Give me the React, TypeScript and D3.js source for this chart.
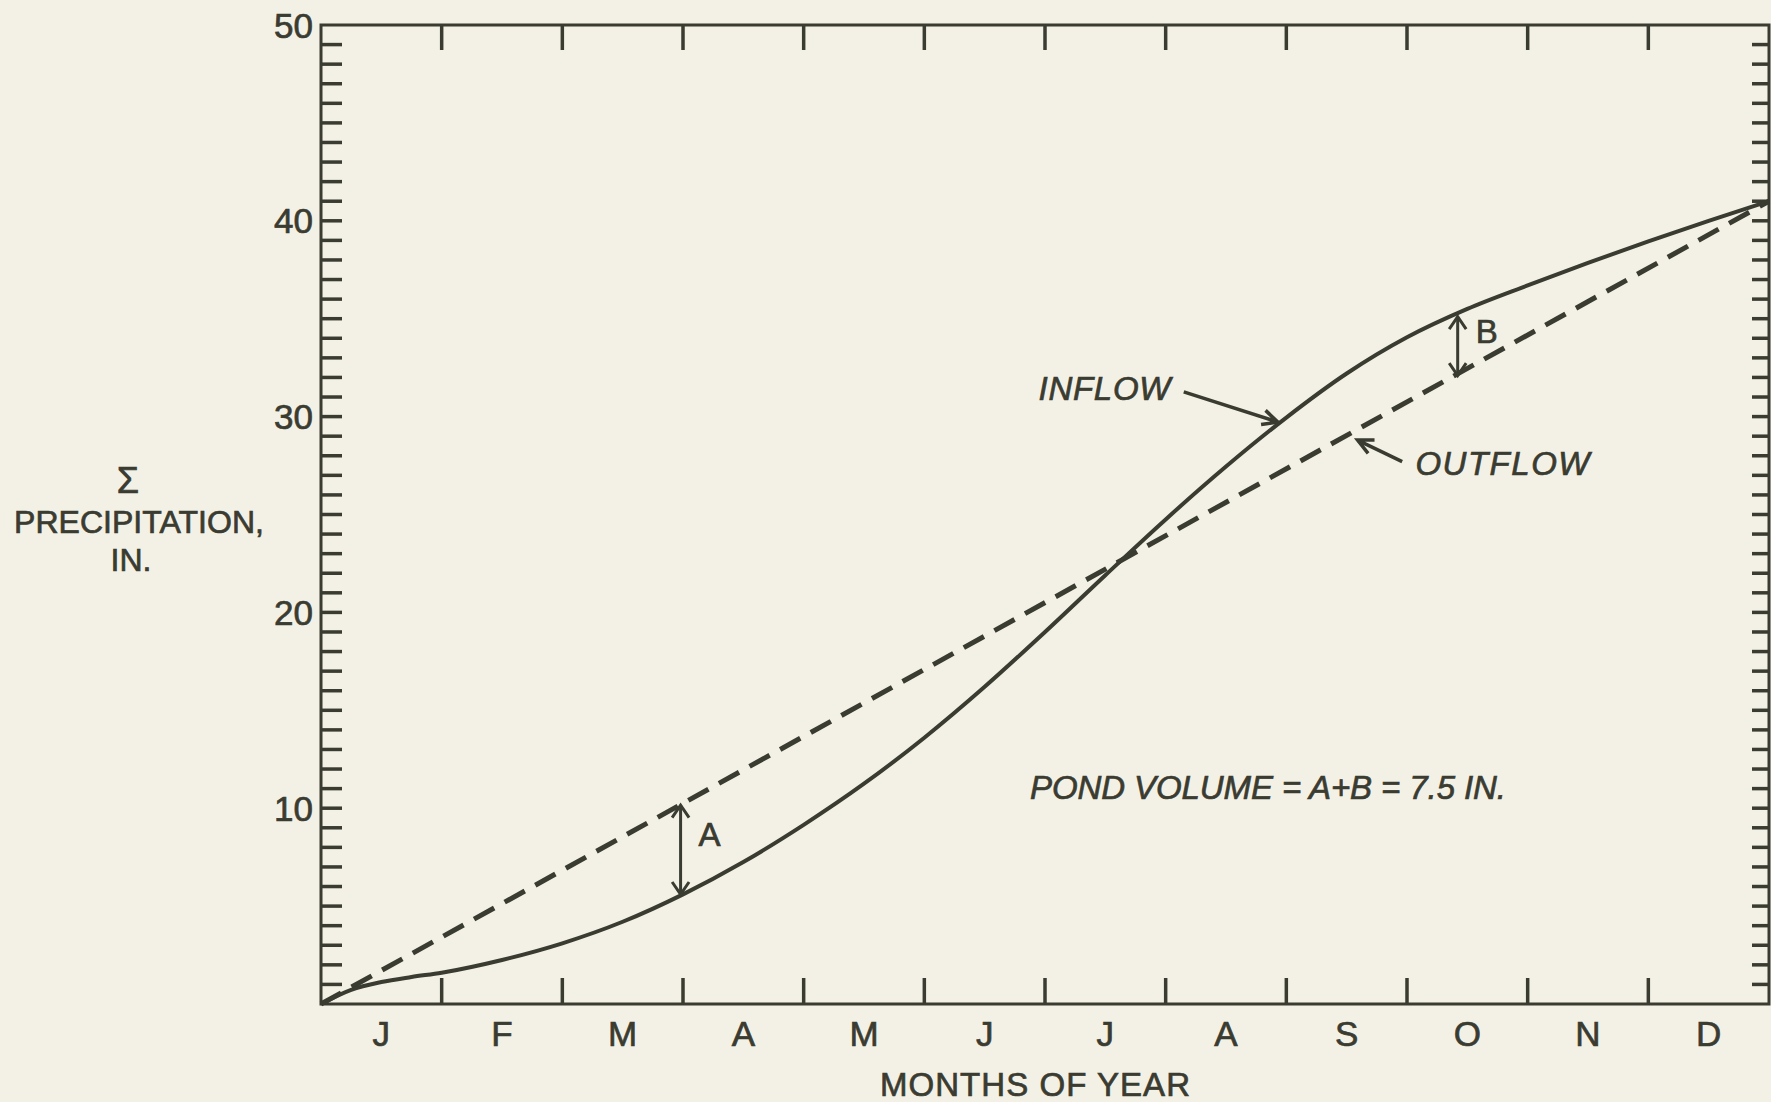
import React, { useEffect, useRef } from 'react';
import * as d3 from 'd3';

const W = 1771;
const H = 1102;
const PAPER = '#f3f1e5';
const INK = '#3a3b31';
const FONT = '"Liberation Sans", Arial, sans-serif';

// month labels along the bottom
const MONTHS = ['J', 'F', 'M', 'A', 'M', 'J', 'J', 'A', 'S', 'O', 'N', 'D'];
// labelled values on the y axis
const Y_LABELS = [10, 20, 30, 40, 50];

// cumulative inflow (solid curve), month of year vs inches
const INFLOW_MONTH = [0, 0.25, 0.5, 0.75, 1, 1.5, 2, 2.5, 3, 3.5, 4, 4.5, 5, 5.5, 6, 6.5, 7, 7.5, 8, 8.5, 9, 9.5, 10, 10.5, 11, 11.5, 12];
const INFLOW_VALUE = [0, 0.72, 1.12, 1.38, 1.6, 2.25, 3.1, 4.2, 5.6, 7.25, 9.15, 11.25, 13.6, 16.2, 19.0, 21.9, 24.75, 27.45, 29.95, 32.2, 34.05, 35.5, 36.7, 37.85, 38.95, 40.0, 41.0];

// cumulative outflow (dashed straight line)
const OUTFLOW_MONTH = [0, 12];
const OUTFLOW_VALUE = [0, 41];

// the A and B gaps between the curves
const GAP_LABEL = ['A', 'B'];
const GAP_MONTH = [2.98, 9.42];
const GAP_TOP = [10.15, 35.1];
const GAP_BOTTOM = [5.6, 32.1];
const GAP_LABEL_VALUE = [8.68, 34.35];

export default function App() {
  const ref = useRef<SVGSVGElement>(null);

  useEffect(() => {
    const svg = d3.select(ref.current);
    svg.selectAll('*').remove();

    const x = d3.scaleLinear().domain([0, 12]).range([321, 1769]);
    const y = d3.scaleLinear().domain([0, 50]).range([1004, 25]);

    svg.append('rect').attr('width', W).attr('height', H).attr('fill', PAPER);

    // open V arrow head at (tx,ty) pointing away from (fx,fy)
    const arrowHead = (tx: number, ty: number, fx: number, fy: number, len = 15, ang = 0.5) => {
      const a = Math.atan2(ty - fy, tx - fx);
      const p1 = [tx - len * Math.cos(a - ang), ty - len * Math.sin(a - ang)];
      const p2 = [tx - len * Math.cos(a + ang), ty - len * Math.sin(a + ang)];
      return `M${p1[0]},${p1[1]}L${tx},${ty}L${p2[0]},${p2[1]}`;
    };

    const label = (sel: any, size: number) =>
      sel.attr('font-family', FONT)
        .attr('font-size', size)
        .attr('fill', INK)
        .attr('stroke', INK)
        .attr('stroke-width', 0.7);

    // unit ticks on left and right
    const units = d3.range(1, 50);
    svg.selectAll('leftTicks')
      .data(units)
      .enter()
      .append('line')
      .attr('x1', x(0))
      .attr('x2', x(0) + 21)
      .attr('y1', d => y(d))
      .attr('y2', d => y(d))
      .attr('stroke', INK)
      .attr('stroke-width', 3.5);

    svg.selectAll('rightTicks')
      .data(units)
      .enter()
      .append('line')
      .attr('x1', x(12) - 17)
      .attr('x2', x(12))
      .attr('y1', d => y(d))
      .attr('y2', d => y(d))
      .attr('stroke', INK)
      .attr('stroke-width', 3.5);

    // month ticks top and bottom
    const monthTicks = d3.range(1, 12);
    svg.selectAll('bottomTicks')
      .data(monthTicks)
      .enter()
      .append('line')
      .attr('x1', d => x(d))
      .attr('x2', d => x(d))
      .attr('y1', y(0))
      .attr('y2', y(0) - 26)
      .attr('stroke', INK)
      .attr('stroke-width', 3.5);

    svg.selectAll('topTicks')
      .data(monthTicks)
      .enter()
      .append('line')
      .attr('x1', d => x(d))
      .attr('x2', d => x(d))
      .attr('y1', y(50))
      .attr('y2', y(50) + 25)
      .attr('stroke', INK)
      .attr('stroke-width', 3.5);

    // frame
    svg.append('rect')
      .attr('x', x(0))
      .attr('y', y(50))
      .attr('width', x(12) - x(0))
      .attr('height', y(0) - y(50))
      .attr('fill', 'none')
      .attr('stroke', INK)
      .attr('stroke-width', 3);

    // tick labels
    label(svg.selectAll('yLabels')
      .data(Y_LABELS)
      .enter()
      .append('text')
      .attr('x', 313)
      .attr('y', d => y(d) + 12.5)
      .attr('text-anchor', 'end')
      .text(d => d), 35);

    label(svg.selectAll('monthLabels')
      .data(MONTHS)
      .enter()
      .append('text')
      .attr('x', (d, i) => x(i + 0.5))
      .attr('y', 1046)
      .attr('text-anchor', 'middle')
      .text(d => d), 35);

    // axis titles
    label(svg.append('text')
      .attr('x', (x(0) + x(12)) / 2 - 10)
      .attr('y', 1096)
      .attr('text-anchor', 'middle')
      .attr('textLength', 310)
      .text('MONTHS OF YEAR'), 33);

    const yTitle = [
      { t: '\u03A3', cx: 128, by: 493, s: 36 },
      { t: 'PRECIPITATION,', cx: 139, by: 533, s: 32 },
      { t: 'IN.', cx: 131, by: 571, s: 32 },
    ];
    svg.selectAll('yTitle')
      .data(yTitle)
      .enter()
      .append('text')
      .attr('x', d => d.cx)
      .attr('y', d => d.by)
      .attr('text-anchor', 'middle')
      .attr('font-family', FONT)
      .attr('font-size', d => d.s)
      .attr('fill', INK)
      .attr('stroke', INK)
      .attr('stroke-width', 0.7)
      .attr('textLength', d => (d.t.length > 3 ? 250 : null))
      .text(d => d.t);

    // the two curves
    const inflow = INFLOW_MONTH.map((m, i) => [m, INFLOW_VALUE[i]] as [number, number]);
    const outflow = OUTFLOW_MONTH.map((m, i) => [m, OUTFLOW_VALUE[i]] as [number, number]);

    const line = d3.line<[number, number]>()
      .x(d => x(d[0]))
      .y(d => y(d[1]))
      .curve(d3.curveMonotoneX);

    svg.append('path')
      .attr('d', line(outflow))
      .attr('fill', 'none')
      .attr('stroke', INK)
      .attr('stroke-width', 5)
      .attr('stroke-dasharray', '23 12');

    svg.append('path')
      .attr('d', line(inflow))
      .attr('fill', 'none')
      .attr('stroke', INK)
      .attr('stroke-width', 4);

    // A and B double arrows
    GAP_MONTH.forEach((m, i) => {
      const gx = x(m);
      const top = y(GAP_TOP[i]);
      const bot = y(GAP_BOTTOM[i]);
      svg.append('line')
        .attr('x1', gx).attr('x2', gx)
        .attr('y1', top).attr('y2', bot)
        .attr('stroke', INK).attr('stroke-width', 3);
      svg.append('path')
        .attr('d', arrowHead(gx, top, gx, bot, 15, 0.6) + arrowHead(gx, bot, gx, top, 15, 0.6))
        .attr('fill', 'none')
        .attr('stroke', INK)
        .attr('stroke-width', 3);
      label(svg.append('text')
        .attr('x', gx + 18)
        .attr('y', y(GAP_LABEL_VALUE[i]) + 12)
        .text(GAP_LABEL[i]), 33);
    });

    // INFLOW / OUTFLOW call-outs
    const callouts = [
      { text: 'INFLOW', anchor: 'end', tx: 7.04, ty: 30.85, width: 132, from: [7.15, 31.26], to: [7.93, 29.72] },
      { text: 'OUTFLOW', anchor: 'start', tx: 9.07, ty: 27.0, width: 174, from: [8.96, 27.7], to: [8.59, 28.8] },
    ];
    callouts.forEach(c => {
      label(svg.append('text')
        .attr('x', x(c.tx))
        .attr('y', y(c.ty))
        .attr('text-anchor', c.anchor)
        .attr('font-style', 'italic')
        .attr('textLength', c.width)
        .text(c.text), 33);
      const fx = x(c.from[0]), fy = y(c.from[1]);
      const tx = x(c.to[0]), ty = y(c.to[1]);
      svg.append('path')
        .attr('d', `M${fx},${fy}L${tx},${ty}` + arrowHead(tx, ty, fx, fy, 17, 0.45))
        .attr('fill', 'none')
        .attr('stroke', INK)
        .attr('stroke-width', 3.5);
    });

    label(svg.append('text')
      .attr('x', 1030)
      .attr('y', 799)
      .attr('font-style', 'italic')
      .attr('textLength', 476)
      .text('POND VOLUME = A+B = 7.5 IN.'), 33);
  }, []);

  return (
    <svg
      ref={ref}
      width={W}
      height={H}
      style={{ position: 'absolute', left: 0, top: 0, display: 'block' }}
    />
  );
}
